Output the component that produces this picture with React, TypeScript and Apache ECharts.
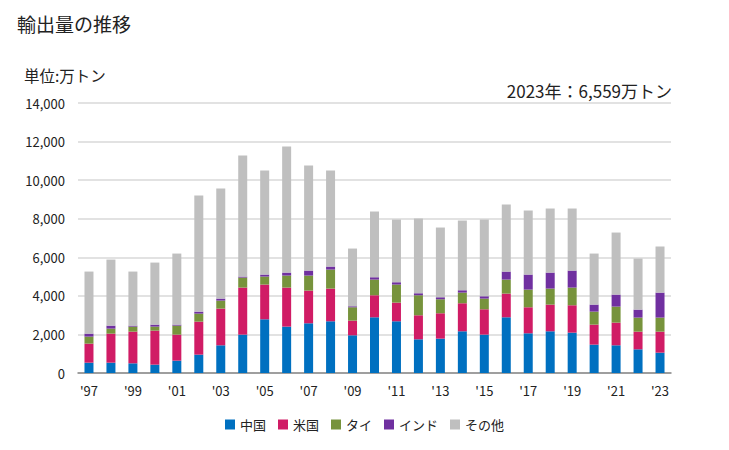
import React, { useEffect, useRef } from "react";
import * as echarts from "echarts";

const years = ["'97","'98","'99","'00","'01","'02","'03","'04","'05","'06","'07","'08","'09","'10","'11","'12","'13","'14","'15","'16","'17","'18","'19","'20","'21","'22","'23"];
const china = [536,536,502,433,640,952,1436,1990,2785,2405,2578,2682,1955,2889,2682,1747,1782,2163,1990,2889,2059,2163,2093,1471,1436,1228,1055];
const usa = [986,1506,1643,1764,1350,1712,1903,2439,1800,2024,1695,1695,761,1142,968,1246,1315,1453,1314,1228,1349,1384,1419,1038,1176,917,1090];
const thai = [364,259,260,208,467,415,415,519,415,623,779,986,692,813,935,1038,726,553,554,727,917,830,917,674,831,727,727];
const india = [156,156,52,104,52,104,104,52,104,155,259,156,52,121,121,104,104,121,121,415,779,830,882,364,623,415,1297];
const others = [3218,3425,2803,3217,3684,6021,5709,6280,5397,6540,5450,4982,2993,3408,3252,3875,3616,3616,3979,3478,3321,3322,3218,2646,3217,2647,2390];
const seriesNames = ["中国", "米国", "タイ", "インド", "その他"];
const colors = ["#0070C0", "#D01C65", "#77933C", "#7030A0", "#BFBFBF"];

const FONT = "'Noto Sans CJK JP', 'Noto Sans', sans-serif";

export default function App() {
  const ref = useRef<HTMLDivElement>(null);
  useEffect(() => {
    if (!ref.current) return;
    const chart = echarts.init(ref.current, undefined, { renderer: "svg" });
    const data = [china, usa, thai, india, others];
    chart.setOption({
      animation: false,
      textStyle: { fontFamily: FONT },
      title: [
        { text: "輸出量の推移", left: 12, top: 9, textStyle: { fontSize: 19, fontWeight: "normal", color: "#222", fontFamily: FONT } },
        { text: "単位:万トン", left: 19, top: 62, textStyle: { fontSize: 15.5, fontWeight: "normal", color: "#222", fontFamily: FONT } },
        { text: "2023年：6,559万トン", right: 52, top: 77, textStyle: { fontSize: 17, fontWeight: "normal", color: "#222", fontFamily: FONT } },
      ],
      legend: {
        bottom: 14,
        left: "center",
        itemWidth: 10,
        itemHeight: 10,
        itemGap: 12,
        icon: "rect",
        textStyle: { fontSize: 13, color: "#222", fontFamily: FONT },
        data: seriesNames,
      },
      grid: { left: 78, right: 58, top: 103, bottom: 77 },
      xAxis: {
        type: "category",
        data: years,
        axisTick: { show: false },
        axisLine: { lineStyle: { color: "#888", width: 1.5 } },
        axisLabel: { interval: 1, fontSize: 13, color: "#222", margin: 11, fontFamily: FONT },
      },
      yAxis: {
        type: "value",
        min: 0,
        max: 14000,
        interval: 2000,
        axisLabel: {
          fontSize: 13,
          color: "#222",
          margin: 13,
          fontFamily: FONT,
          formatter: (v: number) => v.toLocaleString("en-US"),
        },
        splitLine: { lineStyle: { color: "#d9d9d9", width: 1.5 } },
      },
      series: seriesNames.map((name, i) => ({
        name,
        type: "bar",
        stack: "total",
        barWidth: 9,
        itemStyle: { color: colors[i] },
        data: data[i],
      })),
    });
    return () => chart.dispose();
  }, []);
  return <div ref={ref} style={{ width: 729, height: 450, position: "absolute", left: 0, top: 0 }} />;
}
